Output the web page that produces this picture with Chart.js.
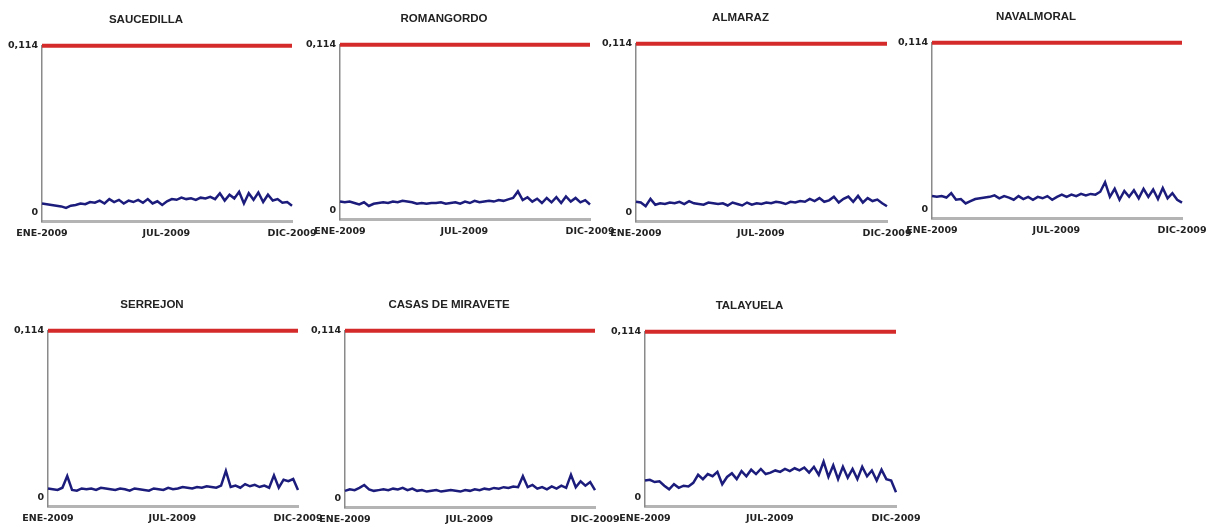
<!DOCTYPE html>
<html>
<head>
<meta charset="utf-8">
<script src="https://cdn.jsdelivr.net/npm/chart.js@4.4.0/dist/chart.umd.min.js"></script>
<style>
  body { margin: 0; background: #fff; }
  #wrap { position: relative; width: 1207px; height: 528px; overflow: hidden; }
  #wrap canvas { position: absolute; }
</style>
</head>
<body>
<div id="wrap"></div>
<script>
// day of year of each weekly reading (2009)
const days = [1, 8, 15, 22, 29, 36, 43, 50, 57, 64, 71, 78, 85, 92, 99, 106, 113, 120, 127, 134,
  141, 148, 155, 162, 169, 176, 183, 190, 197, 204, 211, 218, 225, 232, 239, 246, 253, 260, 267,
  274, 281, 288, 295, 302, 309, 316, 323, 330, 337, 344, 351, 358, 365]

const tickDays = [1, 182, 365]
const tickLabels = ["ENE-2009", "JUL-2009", "DIC-2009"]
const yTickValues = [0, 0.114]
const yTickLabels = ["0", "0,114"]

const limite = 0.114

const saucedilla = [0.006, 0.0055, 0.005, 0.0045, 0.004, 0.003, 0.0045, 0.005, 0.006, 0.0055,
  0.007, 0.0065, 0.008, 0.006, 0.009, 0.007, 0.0085, 0.006, 0.008, 0.007,
  0.0085, 0.0065, 0.009, 0.006, 0.0075, 0.005, 0.0075, 0.009, 0.0085, 0.010,
  0.009, 0.0095, 0.0085, 0.010, 0.0095, 0.0105, 0.009, 0.013, 0.008, 0.012,
  0.0095, 0.014, 0.006, 0.013, 0.0085, 0.0135, 0.007, 0.012, 0.008, 0.009,
  0.0065, 0.007, 0.0045]
const romangordo = [0.006, 0.0055, 0.006, 0.005, 0.004, 0.0055, 0.003, 0.0045, 0.005, 0.0055,
  0.005, 0.006, 0.0055, 0.0065, 0.006, 0.0055, 0.0045, 0.005, 0.0045, 0.005,
  0.005, 0.0055, 0.0045, 0.005, 0.0055, 0.0045, 0.006, 0.005, 0.0065, 0.0055,
  0.006, 0.0065, 0.006, 0.007, 0.0065, 0.0075, 0.0085, 0.013, 0.007, 0.009,
  0.006, 0.008, 0.005, 0.0085, 0.0055, 0.009, 0.005, 0.0095, 0.006, 0.0085,
  0.0055, 0.007, 0.004]
const almaraz = [0.007, 0.0065, 0.004, 0.009, 0.005, 0.006, 0.0055, 0.0065, 0.006, 0.007,
  0.0055, 0.0075, 0.006, 0.0055, 0.005, 0.0065, 0.006, 0.0055, 0.006, 0.0045,
  0.0065, 0.0055, 0.0045, 0.0065, 0.005, 0.006, 0.0055, 0.0065, 0.006, 0.007,
  0.0065, 0.0055, 0.007, 0.0065, 0.0075, 0.007, 0.009, 0.0075, 0.0095, 0.007,
  0.008, 0.0105, 0.0065, 0.009, 0.0105, 0.007, 0.011, 0.0065, 0.0095, 0.0075,
  0.0085, 0.006, 0.004]
const navalmoral = [0.009, 0.0085, 0.009, 0.008, 0.011, 0.0065, 0.007, 0.004, 0.0055, 0.007,
  0.0075, 0.008, 0.0085, 0.0095, 0.0075, 0.009, 0.008, 0.0065, 0.009, 0.007,
  0.0085, 0.0065, 0.0085, 0.0075, 0.009, 0.0065, 0.0085, 0.010, 0.0085, 0.010,
  0.009, 0.0105, 0.0095, 0.0105, 0.010, 0.012, 0.0185, 0.0085, 0.014, 0.0065,
  0.0125, 0.0085, 0.013, 0.0075, 0.014, 0.0085, 0.0135, 0.007, 0.0145, 0.0075,
  0.011, 0.0065, 0.0045]
const serrejon = [0.006, 0.0055, 0.005, 0.0065, 0.0145, 0.005, 0.0045, 0.006, 0.0055, 0.006,
  0.005, 0.0065, 0.006, 0.0055, 0.005, 0.006, 0.0055, 0.0045, 0.006, 0.0055,
  0.005, 0.0045, 0.006, 0.0055, 0.005, 0.0065, 0.0055, 0.006, 0.007, 0.0065,
  0.006, 0.007, 0.0065, 0.0075, 0.007, 0.0065, 0.008, 0.018, 0.007, 0.008,
  0.0065, 0.009, 0.0075, 0.0085, 0.007, 0.008, 0.0065, 0.015, 0.0065, 0.012,
  0.011, 0.0125, 0.005]
const casasMiravete = [0.005, 0.006, 0.0055, 0.007, 0.009, 0.006, 0.005, 0.0055, 0.006, 0.0055,
  0.0065, 0.006, 0.007, 0.0055, 0.0065, 0.005, 0.0055, 0.0045, 0.005, 0.0055,
  0.0045, 0.005, 0.0055, 0.005, 0.0045, 0.0055, 0.005, 0.006, 0.0055, 0.0065,
  0.006, 0.007, 0.0065, 0.0075, 0.007, 0.008, 0.0075, 0.015, 0.0075, 0.009,
  0.0065, 0.0075, 0.006, 0.008, 0.0065, 0.0085, 0.007, 0.016, 0.0075, 0.0115,
  0.0085, 0.011, 0.0055]
const talayuela = [0.0115, 0.012, 0.0105, 0.011, 0.008, 0.0055, 0.009, 0.0065, 0.008, 0.0075,
  0.010, 0.0155, 0.0125, 0.016, 0.0145, 0.0175, 0.009, 0.014, 0.0165, 0.0125,
  0.018, 0.0145, 0.019, 0.016, 0.0195, 0.016, 0.017, 0.0185, 0.0175, 0.0195,
  0.018, 0.020, 0.0185, 0.0205, 0.017, 0.021, 0.0155, 0.0245, 0.014, 0.022,
  0.0125, 0.021, 0.0135, 0.0195, 0.0125, 0.021, 0.0145, 0.0185, 0.0115, 0.019,
  0.0125, 0.0115, 0.0035]

// chart areas on the page: left, top, right, bottom
const panels = [
  { title: "SAUCEDILLA", values: saucedilla, area: [42, 46, 292, 222] },
  { title: "ROMANGORDO", values: romangordo, area: [340, 45, 590, 220] },
  { title: "ALMARAZ", values: almaraz, area: [636, 44, 887, 222] },
  { title: "NAVALMORAL", values: navalmoral, area: [932, 43, 1182, 219] },
  { title: "SERREJON", values: serrejon, area: [48, 331, 298, 507] },
  { title: "CASAS DE MIRAVETE", values: casasMiravete, area: [345, 331, 595, 508] },
  { title: "TALAYUELA", values: talayuela, area: [645, 332, 896, 507] },
]

const tickFont = { family: "'DejaVu Sans', Verdana, sans-serif", size: 9.5, weight: "bold" }
const titleSize = 11.5
const titleFont = { family: "'Liberation Sans Narrow', 'Arial Narrow', 'Liberation Sans', sans-serif", size: titleSize, weight: "bold" }

const padLeft = 24, padRight = 36, yAxisW = 42, xAxisH = 26, titleGap = 19
const titleH = titleSize * 1.2 + titleGap

const wrap = document.getElementById('wrap')

panels.forEach(p => {
  const [l, t, r, b] = p.area
  const canvas = document.createElement('canvas')
  const left = l - yAxisW - padLeft
  const top = t - titleH
  canvas.width = padLeft + yAxisW + (r - l) + padRight
  canvas.height = (b - top) + xAxisH + 2
  canvas.style.left = left + "px"
  canvas.style.top = top + "px"
  wrap.appendChild(canvas)

  new Chart(canvas.getContext("2d"), {
    type: 'line',
    data: {
      datasets: [{
        data: days.map(d => ({ x: d, y: limite })),
        borderColor: "#d42a2a",
        borderWidth: 4,
        pointRadius: 0,
        clip: false,
      }, {
        data: days.map((d, i) => ({ x: d, y: p.values[i] })),
        borderColor: "#1c1c7c",
        borderWidth: 2.5,
        pointRadius: 0,
        tension: 0,
        clip: false,
      }]
    },
    options: {
      responsive: false,
      animation: false,
      events: [],
      layout: {
        padding: { left: padLeft, right: padRight, top: 0, bottom: 2 }
      },
      plugins: {
        legend: { display: false },
        tooltip: { enabled: false },
        title: {
          display: true,
          text: p.title,
          color: "#222",
          font: titleFont,
          padding: { top: 0, bottom: titleGap },
        },
      },
      scales: {
        x: {
          type: 'linear',
          min: 1,
          max: 365,
          grid: { display: false, drawTicks: false },
          border: { display: true, color: "#b4b4b4", width: 3 },
          afterFit: scale => { scale.height = xAxisH },
          afterBuildTicks: scale => { scale.ticks = tickDays.map(v => ({ value: v })) },
          ticks: {
            autoSkip: false,
            maxRotation: 0,
            padding: 7,
            color: "#222",
            font: tickFont,
            callback: (value, index) => tickLabels[index],
          }
        },
        y: {
          min: -0.006,
          max: 0.114,
          grid: { display: false, drawTicks: false },
          border: { display: true, color: "#8a8a8a", width: 1.5 },
          afterFit: scale => { scale.width = yAxisW },
          afterBuildTicks: scale => { scale.ticks = yTickValues.map(v => ({ value: v })) },
          ticks: {
            padding: 4,
            color: "#222",
            font: tickFont,
            callback: (value, index) => yTickLabels[index],
          }
        }
      }
    }
  })
})
</script>
</body>
</html>
